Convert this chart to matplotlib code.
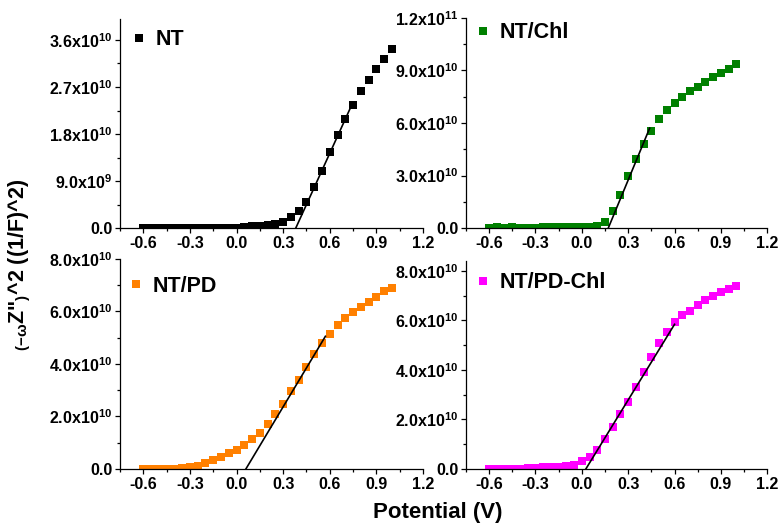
import numpy as np
import matplotlib
matplotlib.use('Agg')
import matplotlib.pyplot as plt
from matplotlib.ticker import MultipleLocator, FuncFormatter

plt.rcParams['font.family'] = 'Liberation Sans'
plt.rcParams['font.weight'] = 'bold'
plt.rcParams['mathtext.fontset'] = 'custom'
plt.rcParams['mathtext.rm'] = 'Liberation Sans:bold'
plt.rcParams['mathtext.it'] = 'Liberation Sans:bold'
plt.rcParams['mathtext.bf'] = 'Liberation Sans:bold'
plt.rcParams['mathtext.default'] = 'rm'

# potential sweep, V
potential = np.linspace(-0.6, 1.0, 33)

# (-wZ'')^2 in units of 1e10
nt = [0.01, 0.01, 0.01, 0.01, 0.01, 0.01, 0.01, 0.01, 0.01, 0.01, 0.01, 0.01, 0.01, 0.02,
      0.04, 0.05, 0.06, 0.08, 0.12, 0.21, 0.33, 0.51, 0.78, 1.10, 1.45, 1.79, 2.08, 2.36,
      2.62, 2.84, 3.04, 3.24, 3.42]
nt_chl = [0.02, 0.06, 0.01, 0.05, 0.02, 0.03, 0.02, 0.04, 0.04, 0.04, 0.04, 0.04, 0.04, 0.05,
          0.15, 0.38, 0.97, 1.90, 2.95, 3.94, 4.82, 5.52, 6.25, 6.72, 7.12, 7.49, 7.81, 8.06,
          8.36, 8.63, 8.86, 9.07, 9.39]
nt_pd = [0.01, 0.01, 0.02, 0.02, 0.02, 0.03, 0.06, 0.13, 0.22, 0.33, 0.46, 0.62, 0.74, 0.90,
         1.13, 1.38, 1.71, 2.08, 2.49, 2.95, 3.40, 3.87, 4.38, 4.79, 5.14, 5.47, 5.75, 5.97,
         6.18, 6.37, 6.55, 6.76, 6.88]
nt_pd_chl = [0.01, 0.01, 0.02, 0.02, 0.02, 0.03, 0.05, 0.07, 0.09, 0.10, 0.14, 0.18, 0.31, 0.47,
             0.77, 1.21, 1.68, 2.21, 2.72, 3.33, 3.92, 4.54, 5.10, 5.54, 5.92, 6.21, 6.39, 6.63,
             6.81, 6.98, 7.13, 7.25, 7.40]

# Mott-Schottky linear fits (x, y in 1e10)
fit_nt = ([0.381, 0.742], [0.0, 2.36])
fit_nt_chl = ([0.171, 0.439], [0.0, 5.71])
fit_nt_pd = ([0.06, 0.572], [0.0, 5.05])
fit_nt_pd_chl = ([0.026, 0.60], [0.0, 5.84])

labels = ['NT', 'NT/Chl', 'NT/PD', 'NT/PD-Chl']
colors = ['#000000', '#008000', '#ff8000', '#ff00ff']
series = [nt, nt_chl, nt_pd, nt_pd_chl]
fits = [fit_nt, fit_nt_chl, fit_nt_pd, fit_nt_pd_chl]
ymax = [4.0e10, 1.2e11, 8.0e10, 8.4e10]
ystep = [9e9, 3e10, 2e10, 2e10]

# axes boxes in figure fractions, legend anchors in axes fractions
boxes = [[0.154, 0.567, 0.389, 0.397],
         [0.598, 0.567, 0.387, 0.399],
         [0.154, 0.110, 0.389, 0.399],
         [0.598, 0.110, 0.387, 0.395]]
leg_pos = [(0.04, 0.90), (0.035, 0.93), (0.03, 0.87), (0.035, 0.895)]


def sci_fmt(v, pos):
    if v <= 0:
        return '0.0'
    e = int(np.floor(np.log10(v) + 1e-9))
    m = v / 10 ** e
    return f'{m:.1f}x10$^{{{e}}}$'


fig = plt.figure(figsize=(7.79, 5.27), dpi=100)

for i in range(4):
    ax = fig.add_axes(boxes[i])
    y = np.array(series[i]) * 1e10
    ax.plot(potential, y, 's', color=colors[i], markersize=5.6, markeredgewidth=0, label=labels[i])
    fx, fy = fits[i]
    ax.plot(fx, np.array(fy) * 1e10, '-', color='black', lw=1.2)
    ax.set_xlim(-0.75, 1.2)
    ax.set_ylim(0, ymax[i])
    ax.xaxis.set_major_locator(MultipleLocator(0.3))
    ax.xaxis.set_minor_locator(MultipleLocator(0.15))
    ax.yaxis.set_major_locator(MultipleLocator(ystep[i]))
    ax.yaxis.set_minor_locator(MultipleLocator(ystep[i] / 2))
    ax.xaxis.set_major_formatter(FuncFormatter(lambda v, p: f'{v:.1f}'))
    ax.yaxis.set_major_formatter(FuncFormatter(sci_fmt))
    for s in ['top', 'right']:
        ax.spines[s].set_visible(False)
    for s in ['left', 'bottom']:
        ax.spines[s].set_linewidth(0.9)
    ax.tick_params(which='major', direction='out', length=3.5, width=0.9, labelsize=11.5, pad=2)
    ax.tick_params(which='minor', direction='out', length=2.5, width=0.9)
    ax.legend(loc='center left', bbox_to_anchor=leg_pos[i], frameon=False,
              handlelength=0.6, handletextpad=0.5, borderpad=0, borderaxespad=0,
              prop={'weight': 'bold', 'size': 15.5})

fig.text(0.026, 0.497, '$_{(-ω}$Z"$_{)}$^2 ((1/F)^2)', rotation=90,
         ha='center', va='center', fontsize=15.5, fontweight='bold')
fig.text(0.562, 0.028, 'Potential (V)', ha='center', va='center', fontsize=16, fontweight='bold')

fig.savefig('out.png', dpi=100)
